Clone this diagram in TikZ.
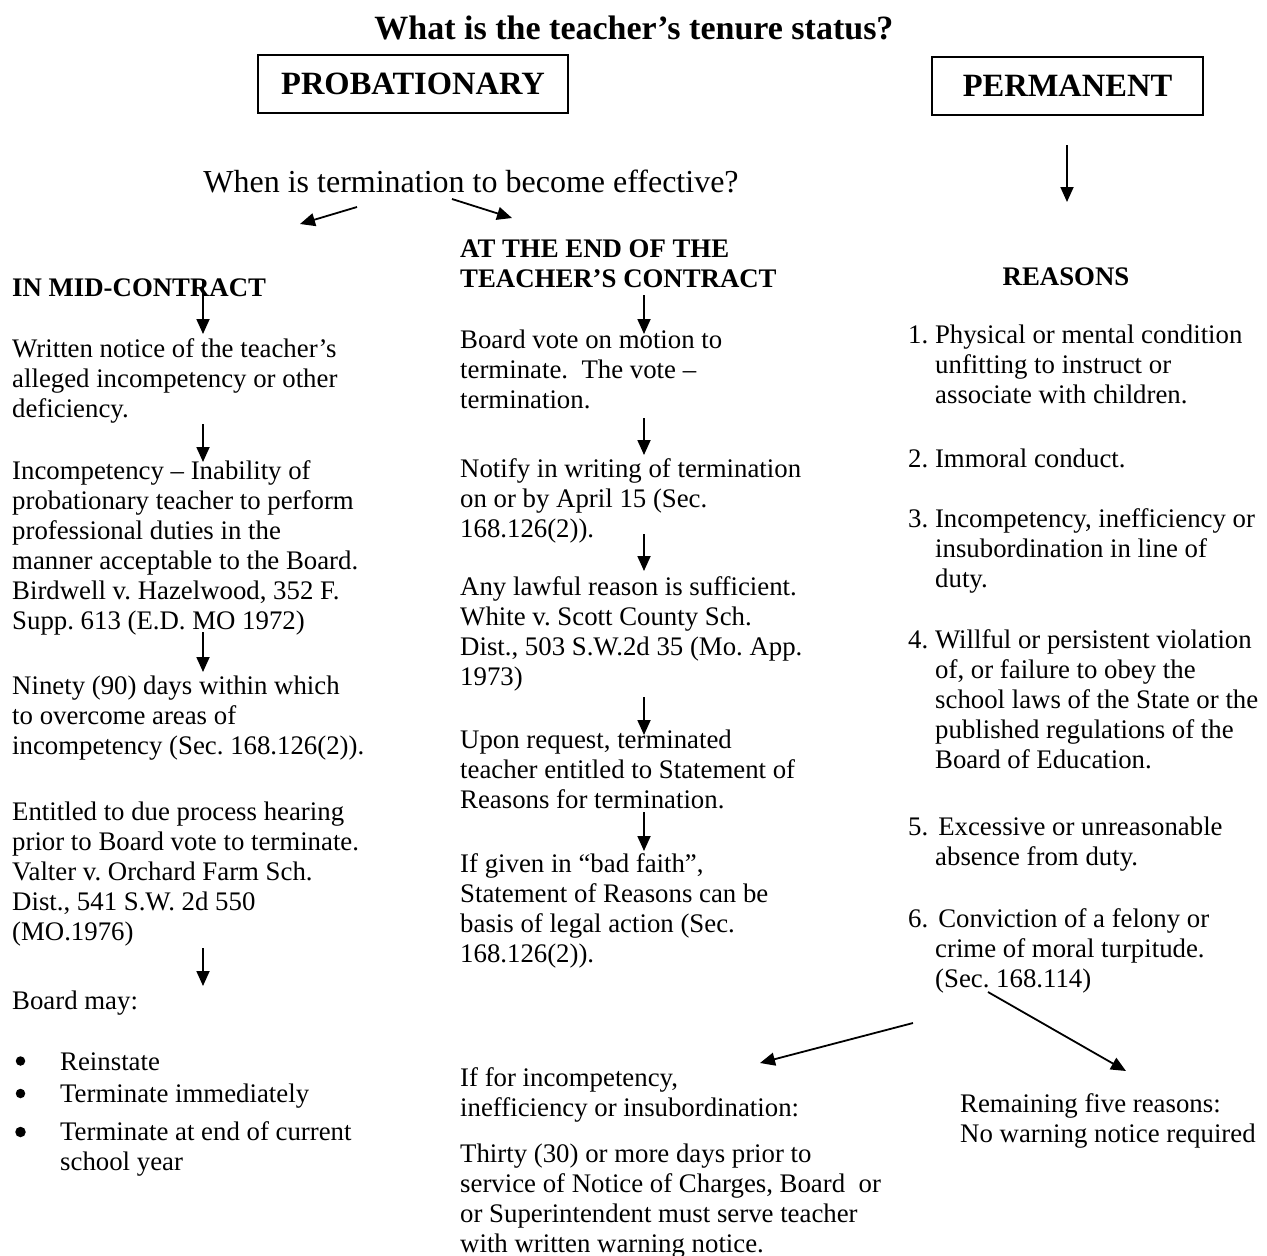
\documentclass[tikz,border=0pt]{standalone}
\usepackage{fontspec}
\setmainfont{Liberation Serif}
\usetikzlibrary{arrows.meta}
\newcommand{\bodyfont}{\fontsize{26.8}{30}\selectfont}
\newcommand{\ml}[1]{\begin{tabular}[t]{@{}l@{}}#1\end{tabular}}
\newcommand{\ind}{\hspace*{27pt}}
\frenchspacing
\begin{document}
\frenchspacing
\begin{tikzpicture}[x=1pt,y=-1pt,
  txt/.style={anchor=base west,inner sep=0pt,font=\bodyfont},
  hd/.style={anchor=base west,inner sep=0pt,font=\bodyfont\bfseries},
  bul/.style={circle,fill=black,inner sep=0pt,minimum size=9.5pt},
  statusbox/.style={draw,line width=1.6pt,minimum width=310pt,minimum height=58pt,inner sep=0pt,font=\fontsize{32.5}{36}\selectfont\bfseries},
  arr/.style={line width=1.8pt,-{Triangle[length=15pt,width=13pt]}}]
\useasboundingbox (0,0) rectangle (1267,1256);
% title and status boxes
\node[anchor=base,inner sep=0pt,font=\fontsize{34}{40}\selectfont\bfseries] (title) at (634,39) {What is the teacher’s tenure status?};
\node[statusbox] (prob) at (413,84) {PROBATIONARY};
\node[statusbox,minimum width=271pt] (perm) at (1067.5,86) {PERMANENT};
\node[anchor=base,inner sep=0pt,font=\fontsize{32}{36}\selectfont] (when) at (471,192) {When is termination to become effective?};
% arrows from the question
\coordinate (wl1) at (357,207); \coordinate (wl2) at (300,224);
\coordinate (wr1) at (452,199); \coordinate (wr2) at (512,218);
\draw[arr] (wl1) -- (wl2);
\draw[arr] (wr1) -- (wr2);
\coordinate (pm1) at (1067,145); \coordinate (pm2) at (1067,202);
\draw[arr] (pm1) -- (pm2);
% left column
\node[hd] (mid) at (12,296) {IN MID-CONTRACT};
\node[txt] (l1) at (12,357) {\ml{Written notice of the teacher’s\\alleged incompetency or other\\deficiency.}};
\node[txt] (l2) at (12,479) {\ml{Incompetency – Inability of\\probationary teacher to perform\\professional duties in the\\manner acceptable to the Board.\\Birdwell v. Hazelwood, 352 F.\\Supp. 613 (E.D. MO 1972)}};
\node[txt] (l3) at (12,694) {\ml{Ninety (90) days within which\\to overcome areas of\\incompetency (Sec. 168.126(2)).}};
\node[txt] (l4) at (12,820) {\ml{Entitled to due process hearing\\prior to Board vote to terminate.\\Valter v. Orchard Farm Sch.\\Dist., 541 S.W. 2d 550\\(MO.1976)}};
\node[txt] (l5) at (12,1009) {Board may:};
\node[bul] (b1) at (20.5,1061) {};
\node[bul] (b2) at (20.5,1093.5) {};
\node[bul,minimum size=10.5pt] (b3) at (20.5,1132) {};
\node[txt] (l6) at (60,1070) {\ml{Reinstate\\[2pt]Terminate immediately\\[8pt]Terminate at end of current\\school year}};
\coordinate (la1) at (203,279); \coordinate (la2) at (203,334);
\coordinate (lb1) at (203,424); \coordinate (lb2) at (203,462);
\coordinate (lc1) at (203,632); \coordinate (lc2) at (203,672);
\coordinate (ld1) at (203,948); \coordinate (ld2) at (203,986);
\draw[arr] (la1) -- (la2);
\draw[arr] (lb1) -- (lb2);
\draw[arr] (lc1) -- (lc2);
\draw[arr] (ld1) -- (ld2);
% middle column
\node[hd] (end) at (460,257) {\ml{AT THE END OF THE\\TEACHER’S CONTRACT}};
\node[txt] (m1) at (460,348) {\ml{Board vote on motion to\\terminate.\ \ The vote –\\termination.}};
\node[txt] (m2) at (460,477) {\ml{Notify in writing of termination\\on or by April 15 (Sec.\\168.126(2)).}};
\node[txt] (m3) at (460,595) {\ml{Any lawful reason is sufficient.\\White v. Scott County Sch.\\Dist., 503 S.W.2d 35 (Mo. App.\\1973)}};
\node[txt] (m4) at (460,748) {\ml{Upon request, terminated\\teacher entitled to Statement of\\Reasons for termination.}};
\node[txt] (m5) at (460,872) {\ml{If given in “bad faith”,\\Statement of Reasons can be\\basis of legal action (Sec.\\168.126(2)).}};
\node[txt] (m6) at (460,1086) {\ml{If for incompetency,\\inefficiency or insubordination:}};
\node[txt] (m7) at (460,1162) {\ml{Thirty (30) or more days prior to\\service of Notice of Charges, Board\ \ or\\or Superintendent must serve teacher\\with written warning notice.}};
\coordinate (ma1) at (644,295); \coordinate (ma2) at (644,334);
\coordinate (mb1) at (644,418); \coordinate (mb2) at (644,455);
\coordinate (mc1) at (644,534); \coordinate (mc2) at (644,571);
\coordinate (md1) at (644,697); \coordinate (md2) at (644,735);
\coordinate (me1) at (644,812); \coordinate (me2) at (644,851);
\draw[arr] (ma1) -- (ma2);
\draw[arr] (mb1) -- (mb2);
\draw[arr] (mc1) -- (mc2);
\draw[arr] (md1) -- (md2);
\draw[arr] (me1) -- (me2);
% right column
\node[anchor=base,inner sep=0pt,font=\bodyfont\bfseries] (reasons) at (1066,285) {REASONS};
\node[txt] (r1) at (908,343) {\ml{1. Physical or mental condition\\\ind unfitting to instruct or\\\ind associate with children.}};
\node[txt] (r2) at (908,467) {2. Immoral conduct.};
\node[txt] (r3) at (908,527) {\ml{3. Incompetency, inefficiency or\\\ind insubordination in line of\\\ind duty.}};
\node[txt] (r4) at (908,648) {\ml{4. Willful or persistent violation\\\ind of, or failure to obey the\\\ind school laws of the State or the\\\ind published regulations of the\\\ind Board of Education.}};
\node[txt] (r5) at (908,835) {\ml{5.\hspace{10pt}Excessive or unreasonable\\\ind absence from duty.}};
\node[txt] (r6) at (908,927) {\ml{6.\hspace{10pt}Conviction of a felony or\\\ind crime of moral turpitude.\\\ind (Sec. 168.114)}};
\node[txt] (r7) at (960,1112) {\ml{Remaining five reasons:\\No warning notice required}};
\coordinate (ra1) at (913,1023); \coordinate (ra2) at (760,1063);
\coordinate (rb1) at (988,992); \coordinate (rb2) at (1126,1071);
\draw[arr] (ra1) -- (ra2);
\draw[arr] (rb1) -- (rb2);
\end{tikzpicture}
\end{document}
